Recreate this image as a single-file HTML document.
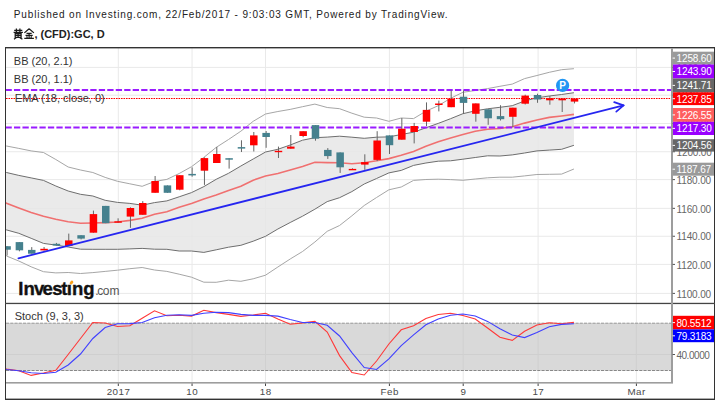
<!DOCTYPE html>
<html><head><meta charset="utf-8"><style>
html,body{margin:0;padding:0;background:#fff;width:720px;height:403px;overflow:hidden}
svg{display:block}
</style></head><body>
<svg width="720" height="403" viewBox="0 0 720 403">
<rect width="720" height="403" fill="#fff"/>
<defs><clipPath id="cm"><rect x="6" y="48" width="665" height="255"/></clipPath><clipPath id="cs"><rect x="6" y="304" width="665" height="78"/></clipPath></defs>
<g fill="#e9e9e9">
<rect x="6" y="66.90" width="665" height="1"/>
<rect x="6" y="94.70" width="665" height="1"/>
<rect x="6" y="123.00" width="665" height="1"/>
<rect x="6" y="151.25" width="665" height="1"/>
<rect x="6" y="179.10" width="665" height="1"/>
<rect x="6" y="207.85" width="665" height="1"/>
<rect x="6" y="235.75" width="665" height="1"/>
<rect x="6" y="263.90" width="665" height="1"/>
<rect x="6" y="292.90" width="665" height="1"/>
<rect x="117.80" y="48" width="1" height="255"/>
<rect x="117.80" y="304" width="1" height="78"/>
<rect x="191.55" y="48" width="1" height="255"/>
<rect x="191.55" y="304" width="1" height="78"/>
<rect x="265.00" y="48" width="1" height="255"/>
<rect x="265.00" y="304" width="1" height="78"/>
<rect x="388.90" y="48" width="1" height="255"/>
<rect x="388.90" y="304" width="1" height="78"/>
<rect x="462.70" y="48" width="1" height="255"/>
<rect x="462.70" y="304" width="1" height="78"/>
<rect x="537.60" y="48" width="1" height="255"/>
<rect x="537.60" y="304" width="1" height="78"/>
<rect x="635.90" y="48" width="1" height="255"/>
<rect x="635.90" y="304" width="1" height="78"/>
</g>
<g clip-path="url(#cm)">
<polygon fill="#e6e6e6" fill-opacity="0.85" points="5.00,171.90 6.48,172.50 18.81,175.40 31.15,177.90 43.48,180.40 55.82,186.00 68.16,191.00 80.49,194.30 92.83,196.00 105.16,200.30 117.50,202.40 129.84,203.40 142.17,205.20 154.51,202.60 166.84,200.90 179.18,196.80 191.52,192.60 203.85,186.60 216.19,179.30 228.52,173.30 240.86,166.00 253.20,159.00 265.53,152.00 277.87,149.30 290.20,145.00 302.54,140.20 314.88,137.70 327.21,137.10 339.55,136.20 351.88,137.20 364.22,138.30 376.56,137.20 388.89,136.90 401.23,134.50 413.56,132.20 425.90,127.80 438.24,123.40 450.57,118.70 462.91,113.70 475.24,110.80 487.58,108.80 499.92,107.30 512.25,105.70 524.59,101.00 536.92,97.80 549.26,96.00 561.60,94.50 573.93,92.70 573.93,145.30 561.60,149.30 549.26,150.10 536.92,150.90 524.59,153.00 512.25,154.90 499.92,156.00 487.58,155.80 475.24,157.50 462.91,159.20 450.57,160.80 438.24,161.20 425.90,163.00 413.56,165.40 401.23,170.40 388.89,172.90 376.56,178.50 364.22,184.00 351.88,191.60 339.55,197.70 327.21,201.60 314.88,209.20 302.54,216.20 290.20,222.50 277.87,229.00 265.53,236.30 253.20,241.20 240.86,245.30 228.52,247.20 216.19,249.80 203.85,252.40 191.52,251.00 179.18,251.00 166.84,249.30 154.51,249.20 142.17,248.40 129.84,248.90 117.50,249.30 105.16,249.30 92.83,249.30 80.49,249.20 68.16,247.00 55.82,245.10 43.48,243.40 31.15,238.30 18.81,233.30 6.48,229.90 5.00,229.20"/>
<polyline fill="none" stroke="#a6a6a6" stroke-width="1" points="5.00,145.50 6.48,146.00 18.81,148.40 31.15,150.90 43.48,152.50 55.82,159.50 68.16,167.00 80.49,170.00 92.83,172.50 105.16,177.40 117.50,181.30 129.84,183.80 142.17,186.30 154.51,181.50 166.84,179.40 179.18,173.50 191.52,166.70 203.85,157.40 216.19,147.40 228.52,139.50 240.86,131.20 253.20,121.30 265.53,114.00 277.87,111.50 290.20,109.40 302.54,106.70 314.88,104.10 327.21,107.50 339.55,108.70 351.88,113.20 364.22,117.20 376.56,118.00 388.89,121.30 401.23,118.00 413.56,118.60 425.90,111.20 438.24,105.70 450.57,98.30 462.91,92.30 475.24,90.50 487.58,88.60 499.92,86.30 512.25,84.10 524.59,78.60 536.92,75.50 549.26,72.30 561.60,69.70 573.93,68.70"/>
<polyline fill="none" stroke="#a6a6a6" stroke-width="1" points="5.00,254.50 6.48,256.00 18.81,261.00 31.15,266.80 43.48,271.70 55.82,272.90 68.16,272.50 80.49,273.50 92.83,272.60 105.16,271.40 117.50,270.20 129.84,268.70 142.17,267.50 154.51,270.00 166.84,271.40 179.18,274.20 191.52,277.20 203.85,282.20 216.19,282.30 228.52,280.20 240.86,281.30 253.20,278.80 265.53,275.20 277.87,267.00 290.20,259.00 302.54,251.50 314.88,242.00 327.21,231.30 339.55,225.50 351.88,215.80 364.22,205.50 376.56,197.50 388.89,189.80 401.23,187.00 413.56,180.40 425.90,179.50 438.24,179.20 450.57,179.60 462.91,180.30 475.24,179.00 487.58,177.80 499.92,177.20 512.25,177.20 524.59,175.90 536.92,174.50 549.26,174.30 561.60,174.10 573.93,169.00"/>
<polyline fill="none" stroke="#6e6e6e" stroke-width="1" points="5.00,171.90 6.48,172.50 18.81,175.40 31.15,177.90 43.48,180.40 55.82,186.00 68.16,191.00 80.49,194.30 92.83,196.00 105.16,200.30 117.50,202.40 129.84,203.40 142.17,205.20 154.51,202.60 166.84,200.90 179.18,196.80 191.52,192.60 203.85,186.60 216.19,179.30 228.52,173.30 240.86,166.00 253.20,159.00 265.53,152.00 277.87,149.30 290.20,145.00 302.54,140.20 314.88,137.70 327.21,137.10 339.55,136.20 351.88,137.20 364.22,138.30 376.56,137.20 388.89,136.90 401.23,134.50 413.56,132.20 425.90,127.80 438.24,123.40 450.57,118.70 462.91,113.70 475.24,110.80 487.58,108.80 499.92,107.30 512.25,105.70 524.59,101.00 536.92,97.80 549.26,96.00 561.60,94.50 573.93,92.70"/>
<polyline fill="none" stroke="#6e6e6e" stroke-width="1" points="5.00,229.20 6.48,229.90 18.81,233.30 31.15,238.30 43.48,243.40 55.82,245.10 68.16,247.00 80.49,249.20 92.83,249.30 105.16,249.30 117.50,249.30 129.84,248.90 142.17,248.40 154.51,249.20 166.84,249.30 179.18,251.00 191.52,251.00 203.85,252.40 216.19,249.80 228.52,247.20 240.86,245.30 253.20,241.20 265.53,236.30 277.87,229.00 290.20,222.50 302.54,216.20 314.88,209.20 327.21,201.60 339.55,197.70 351.88,191.60 364.22,184.00 376.56,178.50 388.89,172.90 401.23,170.40 413.56,165.40 425.90,163.00 438.24,161.20 450.57,160.80 462.91,159.20 475.24,157.50 487.58,155.80 499.92,156.00 512.25,154.90 524.59,153.00 536.92,150.90 549.26,150.10 561.60,149.30 573.93,145.30"/>
<polyline fill="none" stroke="#f07070" stroke-width="1.6" points="5.00,202.40 6.48,203.20 18.81,208.00 31.15,212.50 43.48,216.20 55.82,219.20 68.16,221.80 80.49,223.30 92.83,223.00 105.16,222.60 117.50,222.00 129.84,220.40 142.17,218.30 154.51,214.20 166.84,211.70 179.18,207.30 191.52,203.50 203.85,199.00 216.19,195.00 228.52,190.50 240.86,186.30 253.20,180.20 265.53,176.00 277.87,173.50 290.20,169.90 302.54,166.40 314.88,162.30 327.21,162.60 339.55,162.70 351.88,163.80 364.22,162.70 376.56,160.80 388.89,158.60 401.23,155.30 413.56,151.50 425.90,146.20 438.24,141.80 450.57,138.10 462.91,134.60 475.24,131.20 487.58,129.20 499.92,128.50 512.25,126.70 524.59,123.10 536.92,120.00 549.26,117.40 561.60,116.00 573.93,114.40"/>
<rect x="6" y="89" width="665" height="2" fill="#9900ff" style="display:none"/>
<line x1="5.5" y1="90" x2="671" y2="90" stroke="#9a1cff" stroke-width="2" stroke-dasharray="6.3 2.18"/>
<line x1="5.5" y1="127.5" x2="671" y2="127.5" stroke="#9a1cff" stroke-width="2" stroke-dasharray="6.3 2.18"/>
<line x1="6" y1="98.5" x2="671" y2="98.5" stroke="#ff0000" stroke-width="1" stroke-dasharray="1.6 0.9"/>
<rect x="6.58" y="246.20" width="1" height="9.30" fill="#666"/>
<rect x="3.33" y="246.20" width="7.5" height="3.50" fill="#45818e"/>
<rect x="18.91" y="242.10" width="1" height="9.20" fill="#666"/>
<rect x="15.66" y="242.10" width="7.5" height="8.20" fill="#45818e"/>
<rect x="31.25" y="247.10" width="1" height="6.60" fill="#666"/>
<rect x="28.00" y="249.90" width="7.5" height="3.80" fill="#45818e"/>
<rect x="43.58" y="247.00" width="1" height="3.40" fill="#666"/>
<rect x="40.33" y="248.80" width="7.5" height="1.60" fill="#ff0000"/>
<rect x="55.92" y="242.90" width="1" height="2.60" fill="#666"/>
<rect x="52.67" y="243.80" width="7.5" height="1.70" fill="#45818e"/>
<rect x="68.26" y="233.60" width="1" height="12.40" fill="#666"/>
<rect x="65.01" y="240.40" width="7.5" height="5.60" fill="#ff0000"/>
<rect x="80.59" y="235.20" width="1" height="4.20" fill="#666"/>
<rect x="77.34" y="235.20" width="7.5" height="3.40" fill="#45818e"/>
<rect x="92.93" y="210.60" width="1" height="22.10" fill="#666"/>
<rect x="89.68" y="214.10" width="7.5" height="18.60" fill="#ff0000"/>
<rect x="105.26" y="205.90" width="1" height="17.30" fill="#666"/>
<rect x="102.01" y="205.90" width="7.5" height="17.30" fill="#45818e"/>
<rect x="117.60" y="218.30" width="1" height="4.40" fill="#666"/>
<rect x="114.35" y="221.30" width="7.5" height="1.40" fill="#ff0000"/>
<rect x="129.94" y="207.30" width="1" height="20.50" fill="#666"/>
<rect x="126.69" y="208.00" width="7.5" height="8.60" fill="#ff0000"/>
<rect x="142.27" y="201.10" width="1" height="13.70" fill="#666"/>
<rect x="139.02" y="203.00" width="7.5" height="11.80" fill="#ff0000"/>
<rect x="154.61" y="176.00" width="1" height="16.80" fill="#666"/>
<rect x="151.36" y="181.00" width="7.5" height="11.80" fill="#ff0000"/>
<rect x="166.94" y="185.40" width="1" height="7.40" fill="#666"/>
<rect x="163.69" y="185.40" width="7.5" height="7.40" fill="#45818e"/>
<rect x="179.28" y="175.20" width="1" height="15.10" fill="#666"/>
<rect x="176.03" y="175.20" width="7.5" height="14.50" fill="#ff0000"/>
<rect x="191.62" y="167.40" width="1" height="9.30" fill="#666"/>
<rect x="188.37" y="173.90" width="7.5" height="1.50" fill="#45818e"/>
<rect x="203.95" y="157.40" width="1" height="27.50" fill="#666"/>
<rect x="200.70" y="158.10" width="7.5" height="12.60" fill="#ff0000"/>
<rect x="216.29" y="147.00" width="1" height="16.00" fill="#666"/>
<rect x="213.04" y="154.00" width="7.5" height="9.00" fill="#ff0000"/>
<rect x="228.62" y="158.20" width="1" height="10.40" fill="#666"/>
<rect x="225.37" y="158.20" width="7.5" height="1.50" fill="#45818e"/>
<rect x="240.96" y="140.30" width="1" height="11.70" fill="#666"/>
<rect x="237.71" y="147.10" width="7.5" height="1.50" fill="#45818e"/>
<rect x="253.30" y="132.00" width="1" height="19.50" fill="#666"/>
<rect x="250.05" y="135.40" width="7.5" height="9.90" fill="#ff0000"/>
<rect x="265.63" y="131.00" width="1" height="16.80" fill="#666"/>
<rect x="262.38" y="132.90" width="7.5" height="4.10" fill="#45818e"/>
<rect x="277.97" y="146.60" width="1" height="11.40" fill="#666"/>
<rect x="274.72" y="150.80" width="7.5" height="1.40" fill="#ff0000"/>
<rect x="290.30" y="135.00" width="1" height="13.70" fill="#666"/>
<rect x="287.05" y="146.60" width="7.5" height="2.10" fill="#ff0000"/>
<rect x="302.64" y="131.20" width="1" height="6.00" fill="#666"/>
<rect x="299.39" y="131.20" width="7.5" height="4.80" fill="#ff0000"/>
<rect x="314.98" y="125.10" width="1" height="15.60" fill="#666"/>
<rect x="311.73" y="125.10" width="7.5" height="13.60" fill="#45818e"/>
<rect x="327.31" y="148.10" width="1" height="10.80" fill="#666"/>
<rect x="324.06" y="149.90" width="7.5" height="6.20" fill="#45818e"/>
<rect x="339.65" y="152.40" width="1" height="20.50" fill="#666"/>
<rect x="336.40" y="152.40" width="7.5" height="14.90" fill="#45818e"/>
<rect x="351.98" y="168.30" width="1" height="1.60" fill="#666"/>
<rect x="348.73" y="168.90" width="7.5" height="1.40" fill="#ff0000"/>
<rect x="364.32" y="154.30" width="1" height="15.50" fill="#666"/>
<rect x="361.07" y="162.10" width="7.5" height="2.50" fill="#ff0000"/>
<rect x="376.66" y="131.20" width="1" height="29.90" fill="#666"/>
<rect x="373.41" y="140.50" width="7.5" height="19.40" fill="#ff0000"/>
<rect x="388.99" y="135.40" width="1" height="18.60" fill="#666"/>
<rect x="385.74" y="135.40" width="7.5" height="9.80" fill="#45818e"/>
<rect x="401.33" y="118.00" width="1" height="21.70" fill="#666"/>
<rect x="398.08" y="128.70" width="7.5" height="11.00" fill="#ff0000"/>
<rect x="413.66" y="122.90" width="1" height="20.50" fill="#666"/>
<rect x="410.41" y="126.00" width="7.5" height="6.00" fill="#ff0000"/>
<rect x="426.00" y="102.40" width="1" height="23.60" fill="#666"/>
<rect x="422.75" y="109.90" width="7.5" height="11.80" fill="#ff0000"/>
<rect x="438.34" y="100.60" width="1" height="10.80" fill="#666"/>
<rect x="435.09" y="103.50" width="7.5" height="1.50" fill="#ff0000"/>
<rect x="450.67" y="90.50" width="1" height="16.70" fill="#666"/>
<rect x="447.42" y="98.80" width="7.5" height="8.40" fill="#ff0000"/>
<rect x="463.01" y="90.50" width="1" height="23.50" fill="#666"/>
<rect x="459.76" y="96.70" width="7.5" height="6.20" fill="#45818e"/>
<rect x="475.34" y="103.40" width="1" height="18.30" fill="#666"/>
<rect x="472.09" y="103.40" width="7.5" height="10.40" fill="#ff0000"/>
<rect x="487.68" y="109.30" width="1" height="15.50" fill="#666"/>
<rect x="484.43" y="109.30" width="7.5" height="9.00" fill="#45818e"/>
<rect x="500.02" y="105.20" width="1" height="15.30" fill="#666"/>
<rect x="496.77" y="116.10" width="7.5" height="3.10" fill="#45818e"/>
<rect x="512.35" y="107.70" width="1" height="19.60" fill="#666"/>
<rect x="509.10" y="107.70" width="7.5" height="9.10" fill="#ff0000"/>
<rect x="524.69" y="94.70" width="1" height="9.80" fill="#666"/>
<rect x="521.44" y="95.60" width="7.5" height="8.10" fill="#ff0000"/>
<rect x="537.02" y="93.70" width="1" height="9.10" fill="#666"/>
<rect x="533.77" y="95.00" width="7.5" height="4.50" fill="#45818e"/>
<rect x="549.36" y="96.00" width="1" height="8.70" fill="#666"/>
<rect x="546.11" y="98.20" width="7.5" height="2.10" fill="#ff0000"/>
<rect x="561.70" y="98.50" width="1" height="13.50" fill="#666"/>
<rect x="558.45" y="98.50" width="7.5" height="1.80" fill="#ff0000"/>
<rect x="574.03" y="98.50" width="1" height="4.90" fill="#666"/>
<rect x="570.78" y="98.50" width="7.5" height="3.10" fill="#ff0000"/>
<line x1="18.4" y1="258.3" x2="623.6" y2="105.4" stroke="#2626f0" stroke-width="1.75" stroke-linecap="round"/>
<polyline fill="none" stroke="#2626f0" stroke-width="1.75" stroke-linecap="round" stroke-linejoin="round" points="614.2,102.2 623.6,105.4 616.3,111.6"/>
</g>
<circle cx="562.6" cy="85.4" r="6.6" fill="#2196f3"/>
<text x="562.7" y="89.3" font-family="'Liberation Sans', sans-serif" font-weight="bold" font-size="10" fill="#fff" text-anchor="middle">P</text>
<g font-family="'Liberation Sans', sans-serif" font-size="11" fill="#333">
<text x="13.8" y="64.8">BB (20, 2.1)</text>
<text x="13.8" y="83.3">BB (20, 1.1)</text>
<text x="14.8" y="102.2">EMA (18, close, 0)</text>
<text x="14.7" y="320.2">Stoch (9, 3, 3)</text>
</g>
<text x="18.25 23.45 34.0 42.45 52.35 61.15 66.85 71.95 83.35" y="294.9" font-family="'Liberation Sans', sans-serif" font-weight="bold" font-size="18.5" fill="#111" stroke="#111" stroke-width="0.35">Investıng</text>
<text x="95.2 97.3 102.7 109.55" y="294.7" font-family="'Liberation Sans', sans-serif" font-size="12" fill="#555">.com</text>
<ellipse cx="71.5" cy="282.6" rx="2.2" ry="1.5" transform="rotate(-50 71.5 282.6)" fill="#f9a11b"/>
<g clip-path="url(#cs)">
<rect x="6" y="323" width="665" height="47.5" fill="#d9d9d9"/>
<rect x="6" y="354" width="665" height="1" fill="#cfcfcf"/>
<rect x="117.80" y="323" width="1" height="47.5" fill="#d0d0d0"/>
<rect x="191.55" y="323" width="1" height="47.5" fill="#d0d0d0"/>
<rect x="265.00" y="323" width="1" height="47.5" fill="#d0d0d0"/>
<rect x="388.90" y="323" width="1" height="47.5" fill="#d0d0d0"/>
<rect x="462.70" y="323" width="1" height="47.5" fill="#d0d0d0"/>
<rect x="537.60" y="323" width="1" height="47.5" fill="#d0d0d0"/>
<rect x="635.90" y="323" width="1" height="47.5" fill="#d0d0d0"/>
<line x1="6" y1="323.2" x2="671" y2="323.2" stroke="#999" stroke-width="1" stroke-dasharray="3.1 1.15"/>
<line x1="6" y1="370.5" x2="671" y2="370.5" stroke="#888" stroke-width="1" stroke-dasharray="3.1 1.15"/>
<polyline fill="none" stroke="#ff3838" stroke-width="1.1" points="5.00,368.50 6.48,369.00 18.81,370.70 31.15,375.40 43.48,373.00 55.82,370.30 68.16,354.50 80.49,338.50 92.83,322.50 105.16,323.00 117.50,326.50 129.84,325.80 142.17,318.20 154.51,310.80 166.84,315.80 179.18,315.20 191.52,316.10 203.85,310.30 216.19,312.60 228.52,314.40 240.86,316.40 253.20,315.00 265.53,313.30 277.87,319.00 290.20,324.30 302.54,322.90 314.88,321.30 327.21,332.00 339.55,355.60 351.88,372.50 364.22,375.00 376.56,361.00 388.89,344.00 401.23,329.80 413.56,325.80 425.90,318.50 438.24,314.50 450.57,313.30 462.91,315.50 475.24,319.00 487.58,328.00 499.92,337.20 512.25,340.40 524.59,331.30 536.92,325.00 549.26,322.80 561.60,323.80 573.93,322.40"/>
<polyline fill="none" stroke="#4040ff" stroke-width="1.1" points="5.00,369.10 6.48,369.50 18.81,370.70 31.15,372.80 43.48,373.50 55.82,372.30 68.16,365.00 80.49,354.00 92.83,338.50 105.16,327.50 117.50,323.80 129.84,323.60 142.17,322.50 154.51,317.80 166.84,315.30 179.18,314.70 191.52,315.40 203.85,313.30 216.19,312.20 228.52,312.60 240.86,314.40 253.20,315.40 265.53,315.40 277.87,316.10 290.20,319.50 302.54,322.50 314.88,322.50 327.21,325.30 339.55,336.00 351.88,352.60 364.22,367.50 376.56,369.50 388.89,358.80 401.23,345.70 413.56,334.80 425.90,324.80 438.24,318.90 450.57,315.30 462.91,314.00 475.24,316.00 487.58,321.40 499.92,328.80 512.25,335.00 524.59,337.60 536.92,332.50 549.26,326.80 561.60,324.40 573.93,323.80"/>
</g>
<g fill="#333">
<rect x="5" y="47" width="710" height="1.4"/>
<rect x="5" y="47" width="1" height="353"/>
<rect x="714" y="47" width="1" height="353"/>
<rect x="5" y="398.6" width="710" height="1.4"/>
<rect x="5" y="302.8" width="710" height="1.3" fill="#444"/>
</g>
<rect x="671" y="48" width="2" height="335" fill="#9d9d9d"/>
<rect x="6" y="382" width="667" height="1.6" fill="#9d9d9d"/>
<g font-family="'Liberation Sans', sans-serif" font-size="10" fill="#666" letter-spacing="-0.15">
<rect x="672.6" y="66.90" width="2.4" height="1" fill="#555"/>
<text x="676.6" y="71.60">1260.00</text>
<rect x="672.6" y="94.70" width="2.4" height="1" fill="#555"/>
<text x="676.6" y="99.40">1240.00</text>
<rect x="672.6" y="123.00" width="2.4" height="1" fill="#555"/>
<text x="676.6" y="127.70">1220.00</text>
<rect x="672.6" y="151.25" width="2.4" height="1" fill="#555"/>
<text x="676.6" y="155.95">1200.00</text>
<rect x="672.6" y="179.10" width="2.4" height="1" fill="#555"/>
<text x="676.6" y="183.80">1180.00</text>
<rect x="672.6" y="207.85" width="2.4" height="1" fill="#555"/>
<text x="676.6" y="212.55">1160.00</text>
<rect x="672.6" y="235.75" width="2.4" height="1" fill="#555"/>
<text x="676.6" y="240.45">1140.00</text>
<rect x="672.6" y="263.90" width="2.4" height="1" fill="#555"/>
<text x="676.6" y="268.60">1120.00</text>
<rect x="672.6" y="292.90" width="2.4" height="1" fill="#555"/>
<text x="676.6" y="297.60">1100.00</text>
</g>
<g font-family="'Liberation Sans', sans-serif" font-size="10" letter-spacing="-0.15">
<rect x="673" y="51.7" width="41" height="12.80" fill="#9a9a9a"/>
<rect x="672.6" y="57.60" width="2.4" height="1" fill="#fff"/>
<text x="676.6" y="62.00" fill="#fff">1258.60</text>
<rect x="673" y="64.5" width="41" height="14.00" fill="#9900ff"/>
<rect x="672.6" y="71.00" width="2.4" height="1" fill="#fff"/>
<text x="676.6" y="75.40" fill="#fff">1243.90</text>
<rect x="673" y="78.5" width="41" height="13.80" fill="#686868"/>
<rect x="672.6" y="84.90" width="2.4" height="1" fill="#fff"/>
<text x="676.6" y="89.30" fill="#fff">1241.71</text>
<rect x="673" y="92.3" width="41" height="12.80" fill="#ff0000"/>
<rect x="672.6" y="98.20" width="2.4" height="1" fill="#fff"/>
<text x="676.6" y="102.60" fill="#fff">1237.85</text>
<rect x="673" y="108.0" width="41" height="13.80" fill="#ff5e5e"/>
<rect x="672.6" y="114.40" width="2.4" height="1" fill="#fff"/>
<text x="676.6" y="118.80" fill="#fff">1226.55</text>
<rect x="673" y="121.8" width="41" height="13.20" fill="#9900ff"/>
<rect x="672.6" y="127.90" width="2.4" height="1" fill="#fff"/>
<text x="676.6" y="132.30" fill="#fff">1217.30</text>
<rect x="673" y="139.2" width="41" height="12.40" fill="#686868"/>
<rect x="672.6" y="144.90" width="2.4" height="1" fill="#fff"/>
<text x="676.6" y="149.30" fill="#fff">1204.56</text>
<rect x="673" y="162.7" width="41" height="13.00" fill="#9a9a9a"/>
<rect x="672.6" y="168.70" width="2.4" height="1" fill="#fff"/>
<text x="676.6" y="173.10" fill="#fff">1187.67</text>
</g>
<g font-family="'Liberation Sans', sans-serif" font-size="10" letter-spacing="-0.15">
<rect x="672.6" y="354" width="2.4" height="1" fill="#555"/>
<text x="676.4" y="358.5" fill="#666" letter-spacing="-0.45">40.0000</text>
<rect x="673" y="315.8" width="41" height="13.60" fill="#ff0000"/>
<rect x="672.6" y="322.10" width="2.4" height="1" fill="#fff"/>
<text x="676.4" y="326.50" fill="#fff">80.5512</text>
<rect x="673" y="329.4" width="41" height="12.80" fill="#0000ff"/>
<rect x="672.6" y="335.30" width="2.4" height="1" fill="#fff"/>
<text x="676.4" y="339.70" fill="#fff">79.3183</text>
</g>
<g font-family="'Liberation Sans', sans-serif" font-size="9.8" fill="#4a4a4a" text-anchor="middle" letter-spacing="0.5">
<rect x="117.80" y="383.5" width="1" height="2.5" fill="#444"/>
<text x="118.55" y="395.3">2017</text>
<rect x="191.55" y="383.5" width="1" height="2.5" fill="#444"/>
<text x="192.30" y="395.3">10</text>
<rect x="265.00" y="383.5" width="1" height="2.5" fill="#444"/>
<text x="265.75" y="395.3">18</text>
<rect x="388.90" y="383.5" width="1" height="2.5" fill="#444"/>
<text x="389.65" y="395.3">Feb</text>
<rect x="462.70" y="383.5" width="1" height="2.5" fill="#444"/>
<text x="463.45" y="395.3">9</text>
<rect x="537.60" y="383.5" width="1" height="2.5" fill="#444"/>
<text x="538.35" y="395.3">17</text>
<rect x="635.90" y="383.5" width="1" height="2.5" fill="#444"/>
<text x="636.65" y="395.3">Mar</text>
</g>
<text x="13.8" y="18.3" font-family="'Liberation Sans', sans-serif" font-size="10" fill="#222" letter-spacing="0.85">Published on Investing.com, 22/Feb/2017 - 9:03:03 GMT, Powered by TradingView.</text>
<g fill="none" stroke="#1a1a1a" stroke-width="1.25" stroke-linecap="butt"><path d="M14.2,30.3 H22.3 M16.4,28.6 V31.8 M19.9,28.6 V31.8 M13.6,32.4 H22.9 M15.2,33.6 H21.1 V37.3 H15.2 Z M15.2,35.4 H21.1 M18.1,33.6 V37.3 M16.4,37.6 L14.0,39.2 M19.9,37.6 L22.4,39.2"/><path d="M29.1,28.7 L24.4,32.9 M29.1,28.7 L33.9,32.9 M26.5,33.3 H31.7 M25.5,35.3 H32.7 M29.1,33.3 V38.3 M24.3,38.4 H33.9 M26.6,36.4 L27.4,37.7 M31.6,36.4 L30.8,37.7"/></g>
<text x="34.4" y="38.2" font-family="'Liberation Sans', sans-serif" font-size="11" font-weight="bold" fill="#222">, (CFD):GC, D</text>
</svg>
</body></html>
